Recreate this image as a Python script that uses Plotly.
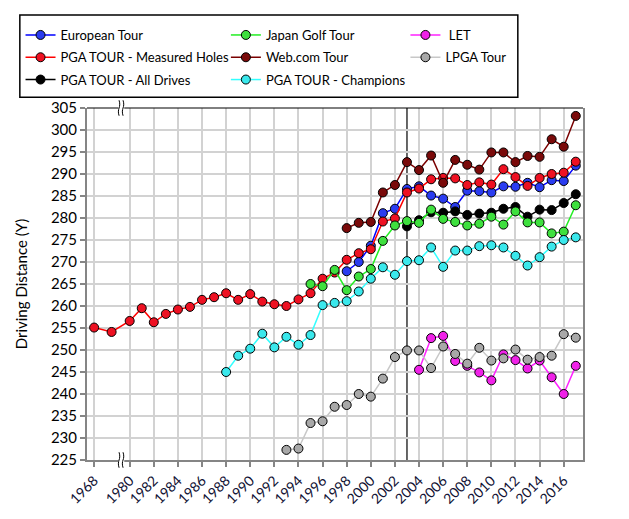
import plotly.graph_objects as go

# driving distance by tour and season
pga_measured_years = [1968, 1969] + list(range(1980, 2018))
pga_measured = [255.1, 254.1, 256.6, 259.5, 256.3, 258.2, 259.2, 259.8, 261.4, 262.0,
                262.9, 261.4, 262.7, 261.0, 260.4, 260.0, 261.5, 262.9, 266.2, 267.6,
                270.5, 272.0, 272.9, 279.2, 279.9, 285.8, 286.7, 288.8, 289.1, 289.0,
                287.5, 288.1, 287.6, 291.1, 289.3, 287.3, 289.1, 290.0, 290.3, 292.8]

european_years = list(range(1998, 2018))
european = [267.9, 270.0, 273.7, 281.1, 282.1, 286.6, 287.2, 285.1, 284.4, 282.5,
            286.2, 286.1, 285.8, 287.2, 287.1, 288.0, 287.0, 288.6, 288.4, 291.9]

pga_all_years = list(range(2003, 2018))
pga_all = [278.1, 279.5, 281.3, 281.2, 281.5, 280.7, 281.0, 281.2, 282.1, 282.5,
           280.3, 281.9, 281.8, 283.4, 285.4]

japan_years = list(range(1995, 2018))
japan = [265.0, 264.5, 268.2, 263.6, 266.7, 268.4, 274.8, 278.3, 279.3, 278.9,
         281.9, 279.8, 279.1, 278.3, 278.7, 280.3, 278.5, 281.5, 279.0, 279.0,
         276.5, 276.9, 282.9]

webcom_years = list(range(1998, 2018))
webcom = [277.7, 278.9, 279.1, 285.8, 287.5, 292.7, 290.9, 294.2, 288.0, 293.2,
          292.1, 291.0, 294.9, 294.9, 292.7, 294.1, 293.9, 297.9, 296.2, 303.2]

champions_years = list(range(1988, 2018))
champions = [245.0, 248.7, 250.3, 253.7, 250.6, 253.0, 251.2, 253.4, 260.2, 260.7,
             261.1, 263.3, 266.2, 268.8, 267.1, 270.2, 270.4, 273.3, 268.9, 272.6,
             272.6, 273.6, 273.8, 273.3, 271.4, 269.2, 271.1, 273.5, 275.0, 275.6]

let_years = list(range(2004, 2018))
let_tour = [245.5, 252.7, 253.2, 247.5, 246.4, 244.9, 243.1, 249.0, 247.7, 245.8,
            247.6, 243.8, 240.0, 246.4]

lpga_years = list(range(1993, 2018))
lpga = [227.3, 227.6, 233.4, 233.8, 237.1, 237.5, 240.0, 239.4, 243.5, 248.4,
        249.9, 249.9, 245.9, 250.8, 249.1, 246.9, 250.5, 247.6, 248.1, 250.1,
        247.8, 248.4, 248.7, 253.6, 252.8]

tick_years = [1968] + list(range(1980, 2017, 2))


def xpos(year):
    # years before 1980 sit in a squeezed section left of the axis break
    if year >= 1980:
        return year
    return 1977.05 + (year - 1968) * 1.45


FONT = "Lato, 'Open Sans', sans-serif"

series = [
    ("European Tour", european_years, european, "#0000ff", "#2a3cf0", "legend"),
    ("PGA TOUR - Measured Holes", pga_measured_years, pga_measured, "#ff0000", "#ee1122", "legend"),
    ("PGA TOUR - All Drives", pga_all_years, pga_all, "#000000", "#000000", "legend"),
    ("Japan Golf Tour", japan_years, japan, "#22ee22", "#3ee03e", "legend2"),
    ("Web.com Tour", webcom_years, webcom, "#7a0000", "#7a0a0a", "legend2"),
    ("PGA TOUR - Champions", champions_years, champions, "#33ffff", "#3ae8ec", "legend2"),
    (" LET", let_years, let_tour, "#ff22ff", "#f022e8", "legend3"),
    ("LPGA Tour", lpga_years, lpga, "#c8c8c8", "#a8a8a8", "legend3"),
]

fig = go.Figure()
for name, yrs, vals, lc, mc, lg in series:
    fig.add_trace(go.Scatter(
        x=[xpos(y) for y in yrs], y=vals, name=name, mode="lines+markers",
        line=dict(color=lc, width=1.5),
        marker=dict(color=mc, size=9, line=dict(color="black", width=1)),
        legend=lg, legendgroup=name,
    ))

grid = "#d2d2d2"
axis_gray = "#858585"

fig.update_xaxes(
    range=[1976.46, 2017.6],
    tickvals=[xpos(y) for y in tick_years],
    ticktext=[str(y) for y in tick_years],
    tickangle=-45,
    tickfont=dict(family=FONT, size=14, color="#111133"),
    showgrid=True, gridcolor=grid, gridwidth=1.5,
    showline=True, linecolor=axis_gray, linewidth=2,
    ticks="outside", ticklen=5, tickcolor=axis_gray, tickwidth=1.5,
    zeroline=False,
)
fig.update_yaxes(
    range=[225, 305], dtick=5,
    tickfont=dict(family=FONT, size=15, color="black"),
    title=dict(text="Driving Distance (Y)", font=dict(family=FONT, size=15, color="black"), standoff=20),
    showgrid=True, gridcolor=grid, gridwidth=1.5,
    showline=True, mirror=True, linecolor=axis_gray, linewidth=2,
    ticks="outside", ticklen=5, tickcolor=axis_gray, tickwidth=1.5,
    zeroline=False,
)

shapes = [
    # gap in the grid at the axis break
    dict(type="rect", xref="x", yref="paper", x0=1979.1, x1=1979.48, y0=0, y1=1,
         fillcolor="white", line=dict(width=0), layer="between"),
    # 2003 marker line
    dict(type="line", xref="x", yref="paper", x0=2003, x1=2003, y0=0, y1=1,
         line=dict(color="black", width=1.2), layer="between"),
    # top border
    dict(type="line", xref="paper", yref="paper", x0=0, x1=1, y0=1, y1=1,
         line=dict(color="black", width=1), layer="above"),
    # legend frame
    dict(type="rect", xref="paper", yref="paper", x0=-0.1354, x1=0.8686, y0=1.0306, y1=1.2645,
         line=dict(color="black", width=1.5), fillcolor="rgba(0,0,0,0)", layer="above"),
]

# break squiggles at top and bottom of the axis
for yc in (0.0, 1.0):
    shapes.append(dict(type="rect", xref="x", yref="paper", x0=1979.05, x1=1979.55,
                       y0=yc - 0.012, y1=yc + 0.012, fillcolor="white",
                       line=dict(width=0), layer="above"))
    for xc in (1979.12, 1979.45):
        yt, yb, ym = yc + 0.022, yc - 0.022, yc
        path = f"M {xc:.3f},{yt:.4f} C {xc + 0.2:.3f},{ym:.4f} {xc - 0.2:.3f},{ym:.4f} {xc:.3f},{yb:.4f}"
        shapes.append(dict(type="path", xref="x", yref="paper", path=path,
                           line=dict(color="black", width=1), layer="above"))

legend_style = dict(
    font=dict(family=FONT, size=13, color="black"),
    bgcolor="rgba(0,0,0,0)", borderwidth=0, itemwidth=30,
    yanchor="top", y=1.25, xanchor="left", tracegroupgap=2.4,
)

# page body adds an 8px offset, so the figure is 8px smaller each way
fig.update_layout(
    width=621, height=511,
    margin=dict(l=75, r=46, t=100, b=52),
    plot_bgcolor="white", paper_bgcolor="white",
    font=dict(family=FONT, color="black"),
    shapes=shapes,
    legend=dict(x=-0.134, **legend_style),
    legend2=dict(x=0.280, **legend_style),
    legend3=dict(x=0.642, **legend_style),
)

fig.write_html("out.html")
